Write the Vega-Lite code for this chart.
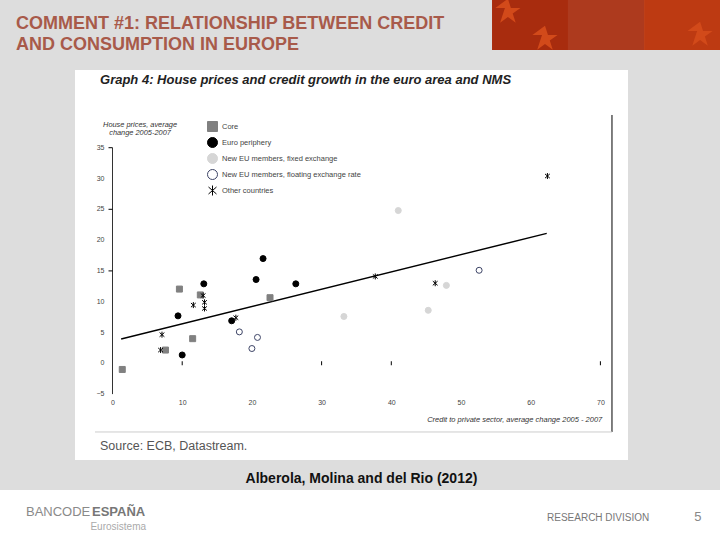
{
  "$schema": "https://vega.github.io/schema/vega-lite/v6.json",
  "width": 487.9,
  "height": 246.4,
  "padding": {"left": 112.5, "top": 147.7, "right": 119.6, "bottom": 145.9},
  "autosize": "none",
  "background": "#dddddd",
  "config": {
    "view": {"stroke": null},
    "text": {"font": "Liberation Sans", "align": "left", "baseline": "alphabetic"}
  },
  "layer": [
    {
      "data": {"values": [{"part": "chart panel"}]},
      "mark": {"type": "rect", "color": "white"},
      "encoding": {
        "x": {"datum": -5.38, "type": "quantitative", "scale": {"domain": [0, 70], "nice": false, "zero": false},
          "axis": {
            "orient": "bottom", "zindex": 1, "title": null, "grid": false, "domain": false, "ticks": false,
            "values": [0, 10, 20, 30, 40, 50, 60, 70],
            "labelPadding": 4, "labelFont": "Liberation Sans", "labelFontSize": 7, "labelColor": "#444444", "labelFlush": false, "labelOverlap": false
          }
        },
        "x2": {"datum": 73.96},
        "y": {"datum": 47.61, "type": "quantitative", "scale": {"domain": [-5, 35], "nice": false, "zero": false},
          "axis": {
            "orient": "left", "zindex": 1, "title": null, "grid": false, "domain": false, "ticks": false, "labels": false,
            "values": [-5, 0, 5, 10, 15, 20, 25, 30, 35]
          }
        },
        "y2": {"datum": -15.7}
      }
    },
    {
      "data": {"values": [{"part": "footer"}]},
      "mark": {"type": "rect", "color": "white"},
      "encoding": {
        "x": {"datum": -16.14, "type": "quantitative"},
        "x2": {"datum": 87.16},
        "y": {"datum": -20.57, "type": "quantitative"},
        "y2": {"datum": -28.68}
      }
    },
    {
      "data": {"values": [{"part": "banner 1"}]},
      "mark": {"type": "rect", "color": "#a82c0e"},
      "encoding": {
        "x": {"datum": 54.45, "type": "quantitative"},
        "x2": {"datum": 65.35},
        "y": {"datum": 58.98, "type": "quantitative"},
        "y2": {"datum": 50.86}
      }
    },
    {
      "data": {"values": [{"part": "banner 2"}]},
      "mark": {"type": "rect", "color": "#ad3a1e"},
      "encoding": {
        "x": {"datum": 65.35, "type": "quantitative"},
        "x2": {"datum": 76.26},
        "y": {"datum": 58.98, "type": "quantitative"},
        "y2": {"datum": 50.86}
      }
    },
    {
      "data": {"values": [{"part": "banner 3"}]},
      "mark": {"type": "rect", "color": "#bd3a12"},
      "encoding": {
        "x": {"datum": 76.26, "type": "quantitative"},
        "x2": {"datum": 87.16},
        "y": {"datum": 58.98, "type": "quantitative"},
        "y2": {"datum": 50.86}
      }
    },
    {
      "data": {"values": [{"star": "a", "x": 56.73, "y": 57.03}, {"star": "b", "x": 62.05, "y": 52.64}, {"star": "c", "x": 84.3, "y": 53.3}]},
      "mark": {"type": "point", "filled": true, "size": 700, "color": "#d24a1a", "opacity": 1, "shape": "M0,-1L0.225,-0.309L0.951,-0.309L0.363,0.118L0.588,0.809L0,0.382L-0.588,0.809L-0.363,0.118L-0.225,-0.309L-0.951,-0.309Z"},
      "encoding": {
        "x": {"field": "x", "type": "quantitative"},
        "y": {"field": "y", "type": "quantitative"}
      }
    },
    {
      "data": {"values": [{"part": "frame right"}]},
      "mark": {"type": "rule", "color": "black", "strokeWidth": 1},
      "encoding": {
        "x": {"datum": 71.66, "type": "quantitative"},
        "y": {"datum": 40.31, "type": "quantitative"},
        "y2": {"datum": -11.15}
      }
    },
    {
      "data": {"values": [{"part": "frame bottom"}]},
      "mark": {"type": "rule", "color": "#cccccc", "strokeWidth": 1},
      "encoding": {
        "x": {"datum": -2.51, "type": "quantitative"},
        "x2": {"datum": 71.66},
        "y": {"datum": -11.15, "type": "quantitative"}
      }
    },
    {
      "data": {"values": [{"part": "y axis line"}]},
      "mark": {"type": "rule", "color": "#333333", "strokeWidth": 1},
      "encoding": {
        "x": {"datum": 0, "type": "quantitative"},
        "y": {"datum": -5, "type": "quantitative"},
        "y2": {"datum": 35}
      }
    },
    {
      "data": {"values": [{"credit": 10, "prices": 0}, {"credit": 30, "prices": 0}, {"credit": 40, "prices": 0}, {"credit": 70, "prices": 0}]},
      "mark": {"type": "tick", "orient": "vertical", "size": 4, "thickness": 1, "color": "black", "opacity": 1},
      "encoding": {
        "x": {"field": "credit", "type": "quantitative"},
        "y": {"field": "prices", "type": "quantitative"}
      }
    },
    {
      "data": {"values": [{"credit": 0, "prices": 35}, {"credit": 0, "prices": 25}, {"credit": 0, "prices": 15}]},
      "mark": {"type": "tick", "orient": "horizontal", "size": 4, "thickness": 1, "color": "black", "opacity": 1, "xOffset": -2},
      "encoding": {
        "x": {"field": "credit", "type": "quantitative"},
        "y": {"field": "prices", "type": "quantitative"}
      }
    },
    {
      "data": {"values": [{"credit": 0, "prices": -5}, {"credit": 0, "prices": 0}, {"credit": 0, "prices": 5}, {"credit": 0, "prices": 10}, {"credit": 0, "prices": 15}, {"credit": 0, "prices": 20}, {"credit": 0, "prices": 25}, {"credit": 0, "prices": 30}, {"credit": 0, "prices": 35}]},
      "mark": {"type": "text", "fontSize": 7, "align": "right", "baseline": "middle", "dx": -8, "color": "#444444"},
      "encoding": {
        "text": {"field": "prices", "type": "quantitative"},
        "x": {"field": "credit", "type": "quantitative"},
        "y": {"field": "prices", "type": "quantitative"}
      }
    },
    {
      "data": {"values": [{"credit": 1.24, "prices": 3.95}, {"credit": 62.3, "prices": 21.1}]},
      "mark": {"type": "line", "color": "black", "strokeWidth": 1.4},
      "encoding": {
        "x": {"field": "credit", "type": "quantitative"},
        "y": {"field": "prices", "type": "quantitative"}
      }
    },
    {
      "data": {
        "values": [
          {"group": "Core", "credit": 1.4, "prices": -1.0},
          {"group": "Core", "credit": 9.6, "prices": 12.05},
          {"group": "Core", "credit": 12.6, "prices": 11.1},
          {"group": "Core", "credit": 22.6, "prices": 10.65},
          {"group": "Core", "credit": 11.5, "prices": 4.0},
          {"group": "Core", "credit": 7.6, "prices": 2.15},
          {"group": "Euro periphery", "credit": 21.6, "prices": 17.0},
          {"group": "Euro periphery", "credit": 20.6, "prices": 13.6},
          {"group": "Euro periphery", "credit": 26.3, "prices": 12.9},
          {"group": "Euro periphery", "credit": 13.1, "prices": 12.9},
          {"group": "Euro periphery", "credit": 9.4, "prices": 7.7},
          {"group": "Euro periphery", "credit": 17.1, "prices": 6.9},
          {"group": "Euro periphery", "credit": 10.0, "prices": 1.35},
          {"group": "New EU members, fixed exchange", "credit": 33.2, "prices": 7.6},
          {"group": "New EU members, fixed exchange", "credit": 41.0, "prices": 24.8},
          {"group": "New EU members, fixed exchange", "credit": 47.9, "prices": 12.65},
          {"group": "New EU members, fixed exchange", "credit": 45.3, "prices": 8.6},
          {"group": "New EU members, floating exchange rate", "credit": 18.2, "prices": 5.1},
          {"group": "New EU members, floating exchange rate", "credit": 20.8, "prices": 4.2},
          {"group": "New EU members, floating exchange rate", "credit": 20.0, "prices": 2.4},
          {"group": "New EU members, floating exchange rate", "credit": 52.6, "prices": 15.1},
          {"group": "Other countries", "credit": 7.1, "prices": 4.65},
          {"group": "Other countries", "credit": 6.9, "prices": 2.15},
          {"group": "Other countries", "credit": 11.6, "prices": 9.45},
          {"group": "Other countries", "credit": 13.0, "prices": 11.0},
          {"group": "Other countries", "credit": 13.2, "prices": 9.9},
          {"group": "Other countries", "credit": 13.2, "prices": 8.9},
          {"group": "Other countries", "credit": 17.7, "prices": 7.4},
          {"group": "Other countries", "credit": 37.7, "prices": 14.1},
          {"group": "Other countries", "credit": 46.3, "prices": 13.0},
          {"group": "Other countries", "credit": 62.4, "prices": 30.4}
        ]
      },
      "mark": {"type": "point", "filled": true, "size": 36, "opacity": 1, "strokeWidth": 1},
      "encoding": {
        "x": {"field": "credit", "type": "quantitative"},
        "y": {"field": "prices", "type": "quantitative"},
        "fill": {
          "field": "group",
          "type": "nominal",
          "scale": {
            "domain": ["Core", "Euro periphery", "New EU members, fixed exchange", "New EU members, floating exchange rate", "Other countries"],
            "range": ["#808080", "black", "#d6d6d6", "white", "transparent"]
          },
          "legend": {
            "title": null, "orient": "none", "legendX": 94.5, "legendY": -26.7, "symbolSize": 100, "symbolStrokeWidth": 1,
            "labelFont": "Liberation Sans", "labelFontSize": 7.5, "labelColor": "#444444", "labelOffset": 4, "rowPadding": 1, "labelLimit": 200
          }
        },
        "stroke": {
          "field": "group",
          "type": "nominal",
          "scale": {
            "domain": ["Core", "Euro periphery", "New EU members, fixed exchange", "New EU members, floating exchange rate", "Other countries"],
            "range": ["#808080", "black", "#d6d6d6", "#3d4466", "black"]
          }
        },
        "shape": {
          "field": "group",
          "type": "nominal",
          "scale": {
            "domain": ["Core", "Euro periphery", "New EU members, fixed exchange", "New EU members, floating exchange rate", "Other countries"],
            "range": ["square", "circle", "circle", "circle", "M0,-1L0,1M-0.8,-0.7L0.8,0.7M-0.8,0.7L0.8,-0.7"]
          }
        }
      }
    },
    {
      "data": {"values": [{"label": "COMMENT #1: RELATIONSHIP BETWEEN CREDIT"}]},
      "mark": {"type": "text", "fontSize": 18, "fontWeight": "bold", "color": "#a85a4a"},
      "encoding": {
        "text": {"field": "label"},
        "x": {"datum": -13.85, "type": "quantitative"},
        "y": {"datum": 54.27, "type": "quantitative"}
      }
    },
    {
      "data": {"values": [{"label": "AND CONSUMPTION IN EUROPE"}]},
      "mark": {"type": "text", "fontSize": 18, "fontWeight": "bold", "color": "#a85a4a"},
      "encoding": {
        "text": {"field": "label"},
        "x": {"datum": -13.85, "type": "quantitative"},
        "y": {"datum": 50.78, "type": "quantitative"}
      }
    },
    {
      "data": {"values": [{"label": "Graph 4: House prices and credit growth in the euro area and NMS"}]},
      "mark": {"type": "text", "fontSize": 13, "fontWeight": "bold", "fontStyle": "italic", "color": "#222222"},
      "encoding": {
        "text": {"field": "label"},
        "x": {"datum": -1.79, "type": "quantitative"},
        "y": {"datum": 45.34, "type": "quantitative"}
      }
    },
    {
      "data": {"values": [{"label": "House prices, average"}]},
      "mark": {"type": "text", "fontSize": 7.4, "fontStyle": "italic", "align": "center", "color": "#333333"},
      "encoding": {
        "text": {"field": "label"},
        "x": {"datum": 3.95, "type": "quantitative"},
        "y": {"datum": 38.28, "type": "quantitative"}
      }
    },
    {
      "data": {"values": [{"label": "change 2005-2007"}]},
      "mark": {"type": "text", "fontSize": 7.4, "fontStyle": "italic", "align": "center", "color": "#333333"},
      "encoding": {
        "text": {"field": "label"},
        "x": {"datum": 3.95, "type": "quantitative"},
        "y": {"datum": 37.06, "type": "quantitative"}
      }
    },
    {
      "data": {"values": [{"label": "Credit to private sector, average change 2005 - 2007"}]},
      "mark": {"type": "text", "fontSize": 7.5, "fontStyle": "italic", "align": "right", "color": "#333333"},
      "encoding": {
        "text": {"field": "label"},
        "x": {"datum": 70.27, "type": "quantitative"},
        "y": {"datum": -9.45, "type": "quantitative"}
      }
    },
    {
      "data": {"values": [{"label": "Source: ECB, Datastream."}]},
      "mark": {"type": "text", "fontSize": 12.5, "color": "#555555"},
      "encoding": {
        "text": {"field": "label"},
        "x": {"datum": -1.79, "type": "quantitative"},
        "y": {"datum": -14.04, "type": "quantitative"}
      }
    },
    {
      "data": {"values": [{"label": "Alberola, Molina and del Rio (2012)"}]},
      "mark": {"type": "text", "fontSize": 14, "align": "center", "fontWeight": "bold", "color": "#111111"},
      "encoding": {
        "text": {"field": "label"},
        "x": {"datum": 35.72, "type": "quantitative"},
        "y": {"datum": -19.43, "type": "quantitative"}
      }
    },
    {
      "data": {"values": [{"label": "BANCODE"}]},
      "mark": {"type": "text", "fontSize": 13, "color": "#8a8a8a"},
      "encoding": {
        "text": {"field": "label"},
        "x": {"datum": -12.41, "type": "quantitative"},
        "y": {"datum": -24.78, "type": "quantitative"}
      }
    },
    {
      "data": {"values": [{"label": "ESPAÑA"}]},
      "mark": {"type": "text", "fontSize": 13, "fontWeight": "bold", "color": "#777777"},
      "encoding": {
        "text": {"field": "label"},
        "x": {"datum": -2.94, "type": "quantitative"},
        "y": {"datum": -24.78, "type": "quantitative"}
      }
    },
    {
      "data": {"values": [{"label": "Eurosistema"}]},
      "mark": {"type": "text", "fontSize": 10, "align": "right", "color": "#aaaaaa"},
      "encoding": {
        "text": {"field": "label"},
        "x": {"datum": 4.81, "type": "quantitative"},
        "y": {"datum": -27.06, "type": "quantitative"}
      }
    },
    {
      "data": {"values": [{"label": "RESEARCH DIVISION"}]},
      "mark": {"type": "text", "fontSize": 10, "color": "#777777"},
      "encoding": {
        "text": {"field": "label"},
        "x": {"datum": 62.34, "type": "quantitative"},
        "y": {"datum": -25.6, "type": "quantitative"}
      }
    },
    {
      "data": {"values": [{"label": "5"}]},
      "mark": {"type": "text", "fontSize": 13, "align": "center", "color": "#888888"},
      "encoding": {
        "text": {"field": "label"},
        "x": {"datum": 84.0, "type": "quantitative"},
        "y": {"datum": -25.6, "type": "quantitative"}
      }
    }
  ]
}
